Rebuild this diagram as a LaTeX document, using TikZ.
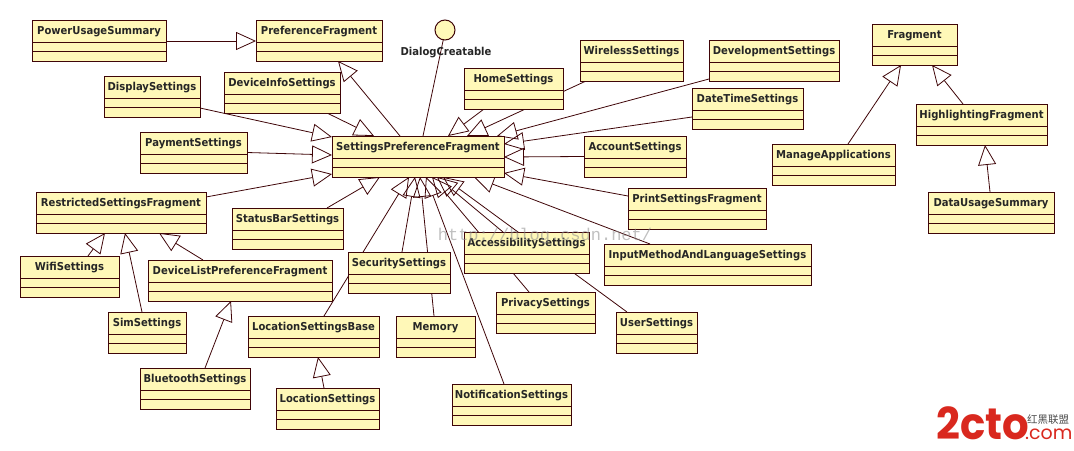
\documentclass[tikz,border=0pt]{standalone}
\usepackage{fontspec}
\setmainfont{DejaVu Sans}[FakeStretch=.92]
\newfontfamily\cjkfont{Noto Sans CJK SC}
\newfontfamily\logofont{Poppins}
\newfontfamily\markfont{Liberation Mono}
\usetikzlibrary{positioning,arrows.meta,backgrounds}
\definecolor{classfill}{HTML}{FFF8B8}
\definecolor{classline}{HTML}{3F0508}
\definecolor{logored}{HTML}{D9281E}
\tikzstyle{classbox}=[draw=classline,fill=classfill,line width=1pt,minimum height=41pt,outer sep=0pt,inner sep=0pt]
\tikzstyle{classname}=[font=\bfseries\fontsize{10.9}{12}\selectfont,text=black!85,inner sep=0pt,text height=8pt,text depth=2pt]
\tikzstyle{inherit}=[draw=classline,line width=.8pt,-{Triangle[open,length=20pt,width=18pt]}]
\tikzstyle{plainline}=[draw=classline,line width=1pt]
\newcommand{\newClass}[5]{
  \node[classbox,minimum width=#5pt] (#1) at ({#3+#5/2},{#4+20.5}) {};
  \node[classname] (#1Name) at ([yshift=-11pt]#1.north) {#2};
  \draw[plainline] ([yshift=-22pt]#1.north west) -- ([yshift=-22pt]#1.north east);
  \draw[plainline] ([yshift=-31pt]#1.north west) -- ([yshift=-31pt]#1.north east);
}
\begin{document}
\begin{tikzpicture}[x=1pt,y=-1pt]
  \useasboundingbox (0,0) rectangle (1074,450);

  \newClass{power}{PowerUsageSummary}{32}{20}{134}
  \newClass{pref}{PreferenceFragment}{256}{20}{126}
  \newClass{display}{DisplaySettings}{104}{76}{96}
  \newClass{deviceInfo}{DeviceInfoSettings}{224}{72}{116}
  \newClass{payment}{PaymentSettings}{140}{132}{107}
  \newClass{settings}{SettingsPreferenceFragment}{332}{136}{172}
  \newClass{restricted}{RestrictedSettingsFragment}{36}{192}{170}
  \newClass{statusBar}{StatusBarSettings}{232}{208}{111}
  \newClass{wifi}{WifiSettings}{20}{256}{99}
  \newClass{sim}{SimSettings}{108}{312}{78}
  \newClass{deviceList}{DeviceListPreferenceFragment}{148}{260}{184}
  \newClass{security}{SecuritySettings}{348}{252}{102}
  \newClass{locationBase}{LocationSettingsBase}{248}{316}{131}
  \newClass{memory}{Memory}{396}{316}{79}
  \newClass{bluetooth}{BluetoothSettings}{140}{368}{110}
  \newClass{location}{LocationSettings}{276}{388}{103}
  \newClass{notification}{NotificationSettings}{452}{384}{119}
  \newClass{access}{AccessibilitySettings}{464}{232}{125}
  \newClass{privacy}{PrivacySettings}{496}{292}{99}
  \newClass{user}{UserSettings}{616}{312}{81}
  \newClass{input}{InputMethodAndLanguageSettings}{604}{244}{207}
  \newClass{print}{PrintSettingsFragment}{628}{188}{138}
  \newClass{account}{AccountSettings}{584}{136}{102}
  \newClass{dateTime}{DateTimeSettings}{692}{88}{111}
  \newClass{development}{DevelopmentSettings}{709}{40}{130}
  \newClass{wireless}{WirelessSettings}{580}{40}{103}
  \newClass{home}{HomeSettings}{464}{68}{99}
  \newClass{fragment}{Fragment}{872}{24}{85}
  \newClass{highlight}{HighlightingFragment}{916}{104}{131}
  \newClass{manage}{ManageApplications}{772}{144}{123}
  \newClass{dataUsage}{DataUsageSummary}{928}{192}{126}

  \node[classbox,circle,minimum height=20pt,minimum width=20pt] (dialog) at (445,30) {};
  \node[classname] (dialogName) at (446,52) {DialogCreatable};

  \begin{scope}[on background layer]
    \draw[inherit] ([yshift=-21pt]power.north east) -- ([yshift=-21pt]pref.north west);
    \draw[inherit] ([xshift=68pt]settings.north west) -- ([xshift=82pt]pref.south west);
    \draw[plainline,line width=.8pt] (dialog.-100) -- ([xshift=91pt]settings.north west);
    % left side
    \draw[inherit] ([yshift=-32pt]display.north east) -- ([yshift=-1pt]settings.north west);
    \draw[inherit] ([xshift=103pt]deviceInfo.south west) -- ([xshift=42pt]settings.north west);
    \draw[inherit] (payment.east) -- ([yshift=-19pt]settings.north west);
    \draw[inherit] ([yshift=-5pt]restricted.north east) -- ([yshift=-38pt]settings.north west);
    % top and right side
    \draw[inherit] ([xshift=20pt]home.south west) -- ([xshift=116pt]settings.north west);
    \draw[inherit] ([xshift=6pt]wireless.south west) -- ([xshift=135pt]settings.north west);
    \draw[inherit] ([yshift=-39pt]development.north west) -- ([xshift=165pt]settings.north west);
    \draw[inherit] ([yshift=-29pt]dateTime.north west) -- ([yshift=-8pt]settings.north east);
    \draw[inherit] (account.west) -- ([yshift=-21pt]settings.north east);
    \draw[inherit] ([yshift=-8pt]print.north west) -- ([yshift=-37pt]settings.north east);
    % bottom side
    \draw[inherit] ([xshift=46pt]input.north west) -- ([xshift=142pt]settings.south west);
    \draw[inherit] ([xshift=95pt]statusBar.north west) -- ([xshift=48pt]settings.south west);
    \draw[inherit] ([xshift=76pt]locationBase.north west) -- ([xshift=77pt]settings.south west);
    \draw[inherit] ([xshift=54pt]security.north west) -- ([xshift=83pt]settings.south west);
    \draw[inherit] ([xshift=38pt]memory.north west) -- ([xshift=88pt]settings.south west);
    \draw[inherit] ([xshift=52pt]notification.north west) -- ([xshift=94pt]settings.south west);
    \draw[inherit] ([xshift=33pt]privacy.north west) -- ([xshift=100pt]settings.south west);
    \draw[inherit] ([xshift=39pt]access.north west) -- ([xshift=105pt]settings.south west);
    \draw[inherit] ([xshift=11pt]user.north west) -- ([xshift=111pt]settings.south west);
    % restricted fragment
    \draw[inherit] ([xshift=68pt]wifi.north west) -- ([xshift=69pt]restricted.south west);
    \draw[inherit] ([xshift=34pt]sim.north west) -- ([xshift=89pt]restricted.south west);
    \draw[inherit] ([xshift=55pt]deviceList.north west) -- ([xshift=123pt]restricted.south west);
    \draw[inherit] ([xshift=65pt]bluetooth.north west) -- ([xshift=83pt]deviceList.south west);
    \draw[inherit] ([xshift=48pt]location.north west) -- ([xshift=70pt]locationBase.south west);
    % fragment side
    \draw[inherit] ([xshift=76pt]manage.north west) -- ([xshift=29pt]fragment.south west);
    \draw[inherit] ([xshift=47pt]highlight.north west) -- ([xshift=60pt]fragment.south west);
    \draw[inherit] ([xshift=62pt]dataUsage.north west) -- ([xshift=69pt]highlight.south west);
  \end{scope}

  \node[font=\markfont\fontsize{17}{20}\selectfont,text=black!45,opacity=.55,inner sep=0pt] (mark) at (545,236) {http://blog.csdn.net/};

  \node[font=\logofont\bfseries\fontsize{44}{44}\selectfont,text=logored,inner sep=0pt,anchor=base west,text depth=0pt] (logo) at (936,439) {\scalebox{.95}[1]{2cto}};
  \node[font=\logofont\fontsize{19}{20}\selectfont,text=logored,inner sep=0pt,anchor=base west] (logoCom) at (1025,439) {.com};
  \node[font=\cjkfont\fontsize{10.5}{11}\selectfont,text=black!70,inner sep=0pt,anchor=base west] (logoCjk) at (1027,423) {红黑联盟};
\end{tikzpicture}
\end{document}
